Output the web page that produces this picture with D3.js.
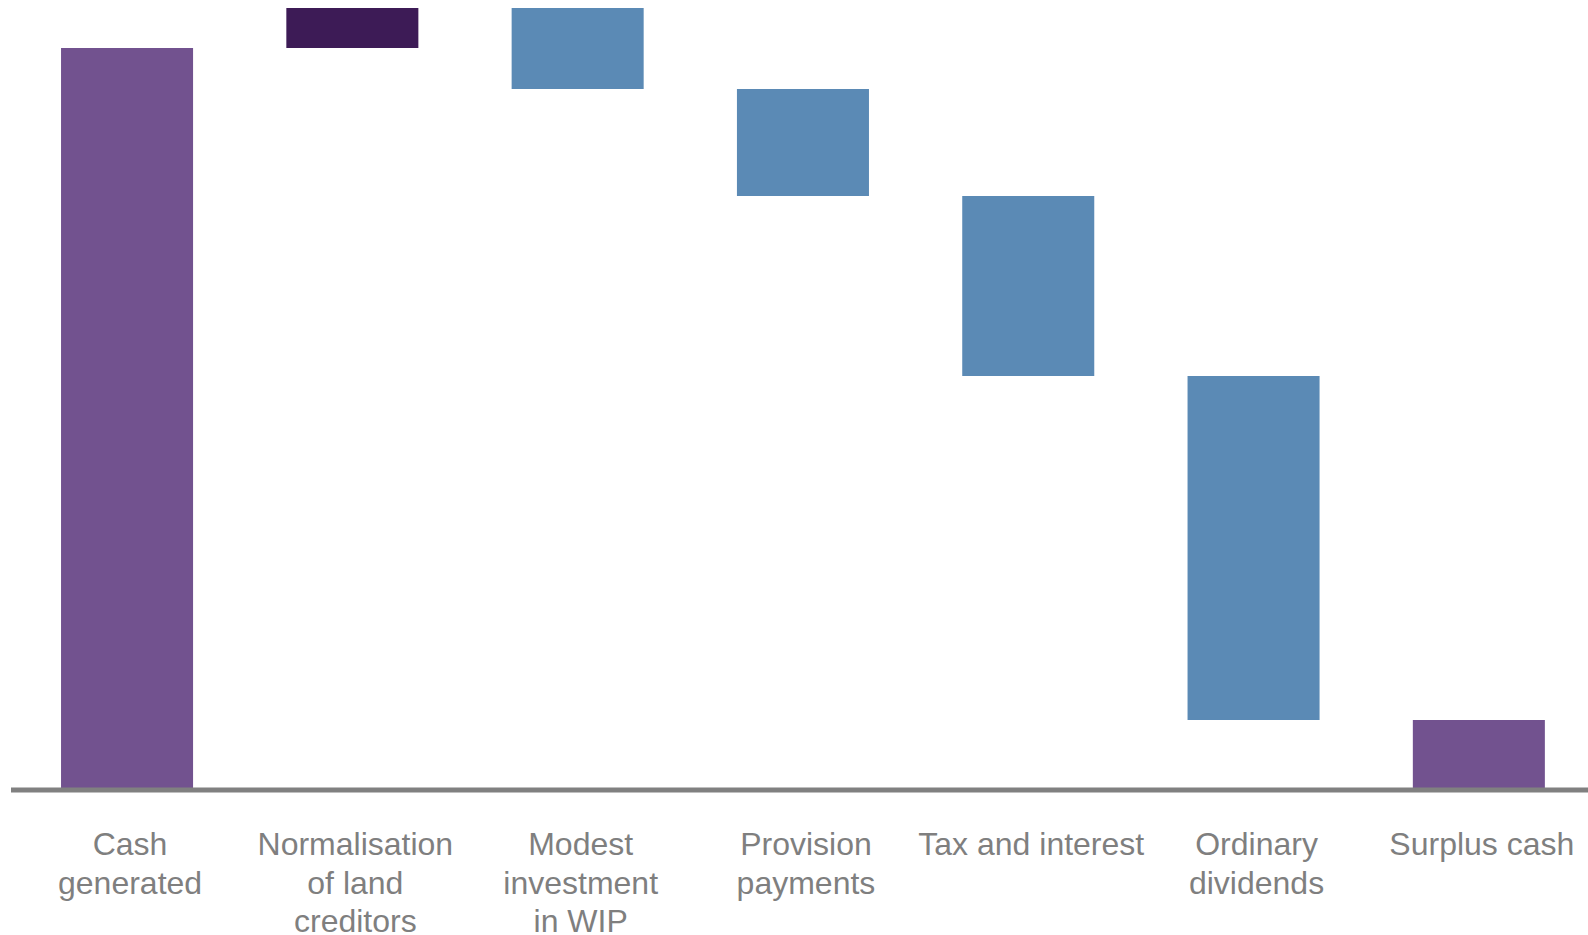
<!DOCTYPE html>
<html>
<head>
<meta charset="utf-8">
<script src="https://cdn.jsdelivr.net/npm/d3@7"></script>
<style>
  html, body { margin: 0; padding: 0; background: #ffffff; }
  svg { display: block; }
</style>
</head>
<body>
<svg id="chart" width="1588" height="935"></svg>
<script>
// ---- data ----
const categories = ["Cash generated", "Normalisation of land creditors", "Modest investment in WIP",
                    "Provision payments", "Tax and interest", "Ordinary dividends", "Surplus cash"];
const labelLines = [["Cash", "generated"], ["Normalisation", "of land", "creditors"], ["Modest", "investment", "in WIP"],
                    ["Provision", "payments"], ["Tax and interest"], ["Ordinary", "dividends"], ["Surplus cash"]];
const changes = [740, 40, -81, -107, -180, -344, 68];
const kinds = ["total", "increase", "decrease", "decrease", "decrease", "decrease", "total"];
const colors = { total: "#72528f", increase: "#3d1b56", decrease: "#5b8ab5" };

// ---- build waterfall segments ----
let running = 0;
const segs = categories.map((c, i) => {
  let start, end;
  if (kinds[i] === "total" && i > 0) { start = 0; end = running; }
  else { start = running; end = running + changes[i]; running = end; }
  return { cat: c, lines: labelLines[i], kind: kinds[i], lo: Math.min(start, end), hi: Math.max(start, end) };
});

const svg = d3.select("#chart");
const x = d3.scaleBand().domain(categories).range([14.4, 1591.5]).paddingInner(0.414).paddingOuter(0.207);
const y = d3.scaleLinear().domain([0, 780]).range([788, 8]);

svg.selectAll("rect.bar").data(segs).join("rect")
  .attr("class", "bar")
  .attr("x", d => x(d.cat))
  .attr("width", x.bandwidth())
  .attr("y", d => y(d.hi))
  .attr("height", d => y(d.lo) - y(d.hi))
  .attr("fill", d => colors[d.kind]);

// baseline axis
svg.append("line")
  .attr("x1", 11).attr("x2", 1588)
  .attr("y1", y(0) + 2).attr("y2", y(0) + 2)
  .attr("stroke", "#808080").attr("stroke-width", 5);

// category labels
const lab = svg.selectAll("text.lab").data(segs).join("text")
  .attr("class", "lab")
  .attr("text-anchor", "middle")
  .attr("font-family", "Liberation Sans, Arial, sans-serif")
  .attr("font-size", 32)
  .attr("fill", "#7f7f7f");
lab.selectAll("tspan").data(d => d.lines.map(l => ({ l, c: d.cat }))).join("tspan")
  .attr("x", d => x(d.c) + x.bandwidth() / 2 + 3)
  .attr("y", (d, i) => 855 + i * 38.5)
  .text(d => d.l);
</script>
</body>
</html>
